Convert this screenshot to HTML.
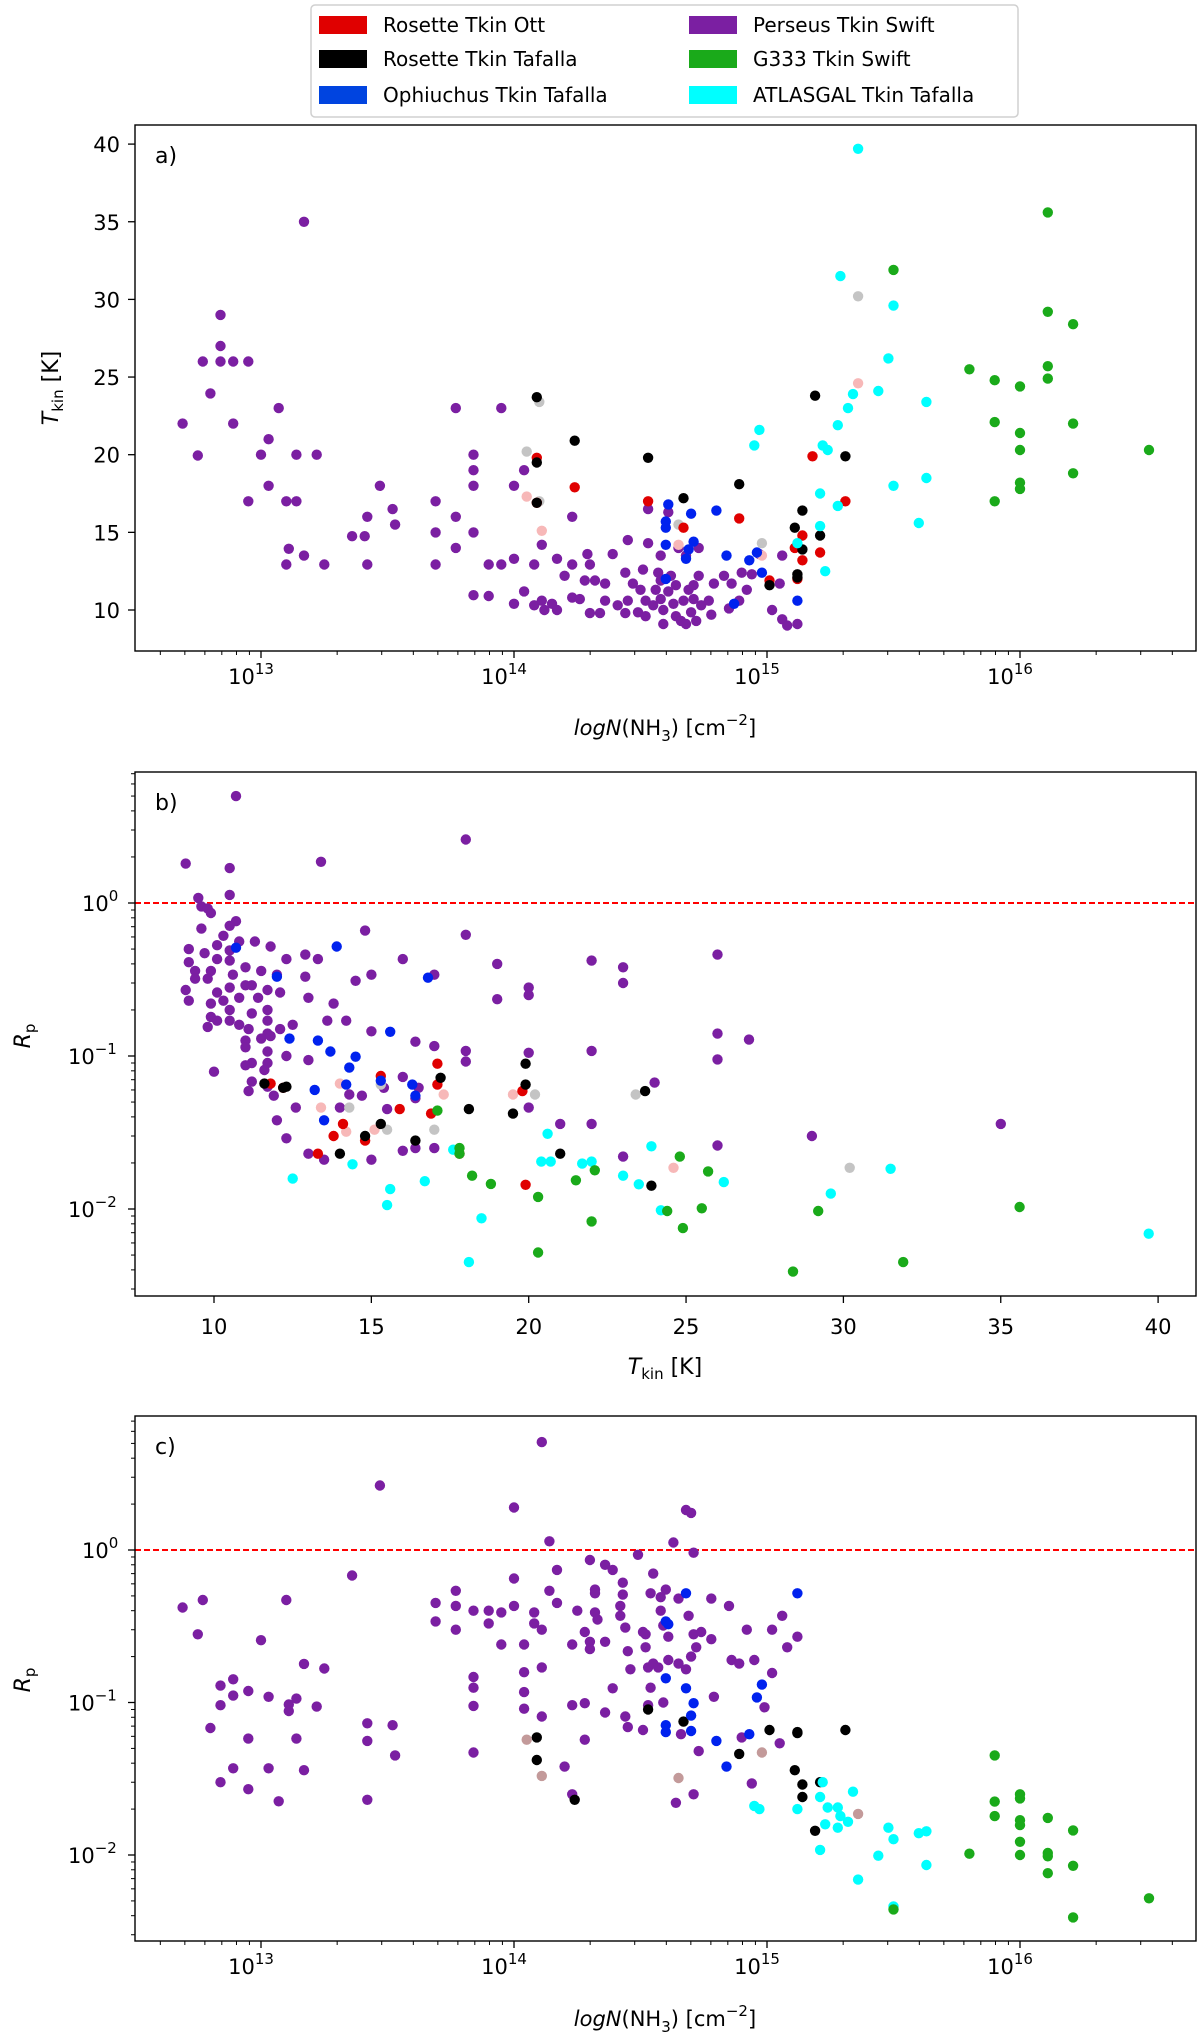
<!DOCTYPE html>
<html><head><meta charset="utf-8"><style>
html,body{margin:0;padding:0;background:#fff;}
svg{display:block;font-family:"DejaVu Sans","Liberation Sans",sans-serif;}
</style></head><body>
<svg id="fig" width="1200" height="2039" viewBox="0 0 1200 2039" xmlns="http://www.w3.org/2000/svg">
<g>
<rect x="311" y="5" width="707" height="112" rx="4" fill="#fff" stroke="#d0d0d0" stroke-width="1.5"/>
<rect x="319" y="16" width="48" height="18" fill="#e00000"/>
<text x="383" y="32" font-size="20">Rosette Tkin Ott</text>
<rect x="319" y="50" width="48" height="18" fill="#000"/>
<text x="383" y="66" font-size="20">Rosette Tkin Tafalla</text>
<rect x="319" y="86" width="48" height="18" fill="#0044e0"/>
<text x="383" y="102" font-size="20">Ophiuchus Tkin Tafalla</text>
<rect x="689" y="16" width="48" height="18" fill="#7b1fa2"/>
<text x="753" y="32" font-size="20">Perseus Tkin Swift</text>
<rect x="689" y="50" width="48" height="18" fill="#1aaa1a"/>
<text x="753" y="66" font-size="20">G333 Tkin Swift</text>
<rect x="689" y="86" width="48" height="18" fill="#00ffff"/>
<text x="753" y="102" font-size="20">ATLASGAL Tkin Tafalla</text>
</g>
</svg>
<script>
// ---------- Panel a: log N vs Tkin ----------
const a_perseus_N=[12.69,12.75,12.77,12.80,12.84,12.84,12.84,12.89,12.95,12.89,12.95,13.0,13.03,13.03,13.07,13.10,13.14,13.14,13.22,13.17,13.11,13.10,13.17,13.25,13.36,13.41,13.42,13.42,13.47,13.52,13.53,13.69,13.69,13.69,13.77,13.77,13.77,13.84,13.84,13.84,13.84,13.84,13.90,13.90,13.95,13.95,14.0,14.0,14.0,14.04,14.04,14.08,14.08,14.11,14.11,14.12,14.15,14.17,14.17,14.2,14.23,14.23,14.23,14.26,14.29,14.30,14.30,14.28,14.32,14.34,14.36,14.36,14.39,14.41,14.44,14.44,14.45,14.45,14.47,14.49,14.50,14.51,14.52,14.52,14.53,14.53,14.55,14.56,14.57,14.58,14.58,14.59,14.59,14.61,14.61,14.62,14.63,14.64,14.64,14.65,14.66,14.67,14.68,14.68,14.69,14.70,14.71,14.71,14.72,14.73,14.73,14.74,14.77,14.78,14.79,14.83,14.85,14.86,14.89,14.90,14.92,14.94,15.02,15.06,15.08,15.12,15.05,15.06,14.58,14.97];
const a_perseus_T=[22,19.95,26,23.95,29,27,26,26,26,22,17,20,21,18,23,17,17,20,20,35,13.94,12.93,13.5,12.93,14.75,14.75,16,12.93,18,16.5,15.5,17,15,12.93,23,16,14,20,19,18,15,10.95,12.93,10.9,23,12.93,18,13.3,10.4,19,11.2,12.93,10.3,14.2,10.6,10,10.4,10,13.3,12.2,16,12.93,10.8,10.7,13.6,12.93,9.8,11.9,11.9,9.8,10.6,11.7,13.6,10.3,9.8,12.4,10.6,14.5,11.7,9.85,11.3,12.6,10.6,9.6,16.5,14.3,10.3,11.3,12.4,11.9,10.7,9.1,10,11.2,16.3,12.2,10.4,9.6,11.6,14.0,9.3,10.6,9.1,13.5,11.3,9.85,10.7,11.6,9.3,12.2,14.0,10.3,10.6,9.7,11.7,12.2,10.1,11.7,10.6,12.4,11.3,12.3,10,9.4,9.0,9.1,11.7,13.5,13.5,13.6];
const a_pink_N=[14.05,14.11,14.65,14.98,15.36];
const a_pink_T=[17.3,15.1,14.2,13.5,24.6];
const a_grey_N=[14.05,14.10,14.10,14.65,14.98,15.36];
const a_grey_T=[20.2,23.4,17.0,15.5,14.3,30.2];
const a_ott_N=[14.09,14.09,14.24,14.53,14.67,14.89,15.01,15.11,15.14,15.14,15.12,15.18,15.21,15.31];
const a_ott_T=[19.8,16.9,17.9,17.0,15.3,15.9,11.9,14.0,14.8,13.2,12.0,19.9,13.7,17.0];
const a_tafalla_N=[14.09,14.09,14.09,14.24,14.53,14.67,14.89,15.01,15.11,15.14,15.14,15.12,15.12,15.19,15.21,15.31];
const a_tafalla_T=[23.7,19.5,16.9,20.9,19.8,17.2,18.1,11.6,15.3,16.4,13.9,12.3,12.1,23.8,14.8,19.9];
const a_oph_N=[14.61,14.60,14.60,14.60,14.60,14.70,14.71,14.69,14.68,14.80,14.84,14.93,14.96,14.98,14.87,15.12];
const a_oph_T=[16.8,15.7,15.3,14.2,12.0,16.2,14.4,13.9,13.3,16.4,13.5,13.2,13.7,12.4,10.4,10.6];
const a_atlas_N=[15.36,15.29,15.50,15.48,15.44,15.34,15.32,15.28,14.97,14.95,15.22,15.24,15.63,15.63,15.50,15.21,15.28,15.21,15.12,15.23,15.60];
const a_atlas_T=[39.7,31.5,29.6,26.2,24.1,23.9,23.0,21.9,21.6,20.6,20.6,20.3,23.4,18.5,18.0,17.5,16.7,15.4,14.3,12.5,15.6];
const a_g333_N=[16.11,15.50,16.11,16.21,15.80,16.11,16.11,15.90,16.0,15.90,16.21,16.0,16.0,16.51,16.0,16.0,15.90,16.21];
const a_g333_T=[35.6,31.9,29.2,28.4,25.5,25.7,24.9,24.8,24.4,22.1,22.0,21.4,20.3,20.3,18.2,17.8,17.0,18.8];
const a_yticks=[10,15,20,25,30,35,40];
const logN_ticks=[13,14,15,16];

// ---------- Panel b: Tkin vs Rp ----------
const b_perseus_T=[10.7,9.1,13.4,10.5,18.0,9.5,10.5,9.6,9.8,9.9,10.7,10.5,9.6,10.3,10.8,11.3,11.8,9.2,9.7,10.1,10.5,12.3,10.1,10.5,11.0,9.2,9.4,9.9,10.6,11.5,12.0,12.9,13.3,9.4,9.8,9.1,9.2,10.1,10.5,11.0,11.2,11.7,12.1,9.9,10.3,10.8,9.9,10.5,11.4,11.2,11.7,11.7,12.1,12.5,10.1,10.5,9.8,10.8,11.1,11.7,11.8,11.0,11.0,11.5,11.7,13.0,12.9,13.8,13.6,14.2,14.5,14.8,15.0,16.0,17.0,18.0,19.0,19.0,20.0,20.0,22.0,23.0,23.0,26.0,22.0,20.0,18.0,18.0,17.0,16.4,15.0,13.0,12.3,11.7,11.6,11.2,11.0,11.2,10.0,11.7,11.1,11.9,12.6,12.0,12.3,13.0,13.5,14.0,14.3,14.7,15.4,16.0,15.5,16.5,16.4,16.0,16.4,17.0,15.0,23.0,26.0,26.0,26.0,27.0,24.0,22.0,21.0,20.0,29.0,35.0];
const b_perseus_R=[5.0,1.81,1.86,1.69,2.6,1.08,1.13,0.95,0.92,0.86,0.76,0.71,0.68,0.61,0.56,0.56,0.52,0.50,0.47,0.53,0.49,0.43,0.43,0.42,0.38,0.41,0.36,0.36,0.34,0.36,0.34,0.46,0.43,0.32,0.32,0.27,0.23,0.26,0.28,0.29,0.29,0.27,0.26,0.22,0.23,0.24,0.18,0.20,0.24,0.19,0.20,0.17,0.15,0.16,0.17,0.17,0.155,0.16,0.15,0.14,0.135,0.126,0.114,0.13,0.107,0.24,0.33,0.22,0.17,0.17,0.31,0.66,0.34,0.43,0.34,0.62,0.40,0.235,0.28,0.25,0.42,0.38,0.30,0.46,0.108,0.105,0.108,0.092,0.116,0.124,0.145,0.094,0.10,0.09,0.081,0.09,0.087,0.068,0.079,0.063,0.059,0.055,0.046,0.038,0.029,0.023,0.021,0.046,0.056,0.055,0.062,0.073,0.045,0.062,0.053,0.024,0.025,0.025,0.021,0.022,0.026,0.14,0.095,0.128,0.067,0.036,0.036,0.046,0.03,0.036];
const b_pink_T=[13.4,14.2,15.1,17.3,19.5,24.6,14.0];
const b_pink_R=[0.046,0.032,0.033,0.056,0.056,0.0186,0.066];
const b_grey_T=[14.3,15.5,17.0,15.3,20.2,23.4,30.2];
const b_grey_R=[0.046,0.033,0.033,0.065,0.056,0.056,0.0186];
const b_ott_T=[11.8,12.2,13.3,13.8,14.1,14.8,15.3,15.9,16.9,17.1,17.1,17.8,19.8,19.9];
const b_ott_R=[0.066,0.062,0.023,0.030,0.036,0.028,0.074,0.045,0.042,0.065,0.089,0.023,0.059,0.0144];
const b_tafalla_T=[11.6,12.3,12.2,14.0,14.8,15.3,16.4,17.2,18.1,19.5,19.9,19.9,21.0,23.7,23.9];
const b_tafalla_R=[0.066,0.063,0.062,0.023,0.030,0.036,0.028,0.072,0.045,0.042,0.065,0.089,0.023,0.059,0.0142];
const b_oph_T=[10.7,13.9,12.0,16.8,12.4,13.3,13.7,14.5,15.6,14.3,15.3,16.3,14.2,13.2,16.4,13.5];
const b_oph_R=[0.51,0.52,0.33,0.325,0.13,0.126,0.107,0.099,0.144,0.084,0.069,0.065,0.065,0.06,0.055,0.038];
const b_atlas_T=[12.5,14.4,15.5,15.6,16.7,17.6,18.1,18.5,20.6,20.4,20.7,21.7,22.0,23.0,23.5,23.9,24.2,26.2,29.6,31.5,39.7];
const b_atlas_R=[0.0158,0.0196,0.0106,0.0135,0.0152,0.0244,0.0045,0.0087,0.031,0.0204,0.0204,0.0198,0.0204,0.0165,0.0145,0.0257,0.0098,0.0150,0.0126,0.0183,0.0069];
const b_g333_T=[17.1,17.8,17.8,18.2,18.8,20.3,20.3,21.5,22.1,22.0,24.4,24.8,24.9,25.5,25.7,28.4,29.2,31.9,35.6];
const b_g333_R=[0.044,0.025,0.023,0.0165,0.0146,0.012,0.0052,0.0154,0.0179,0.0083,0.0097,0.022,0.0075,0.0101,0.0176,0.0039,0.0097,0.0045,0.0103];
const b_xticks=[10,15,20,25,30,35,40];
const rp_ticks=[-2,-1,0];

// ---------- Panel c: log N vs Rp ----------
const c_perseus_N=[12.69,12.77,12.75,12.80,12.84,12.84,12.89,12.89,12.95,12.95,12.84,12.89,12.95,13.0,13.03,13.03,13.07,13.10,13.11,13.11,13.14,13.14,13.17,13.17,13.22,13.25,13.36,13.42,13.42,13.42,13.47,13.52,13.53,13.69,13.69,13.77,13.77,13.77,13.84,13.84,13.84,13.84,13.84,13.90,13.90,13.95,13.95,14.0,14.0,14.0,14.04,14.04,14.04,14.04,14.08,14.08,14.11,14.11,14.11,14.11,14.14,14.14,14.17,14.17,14.20,14.23,14.23,14.23,14.25,14.28,14.28,14.28,14.30,14.30,14.30,14.32,14.32,14.32,14.33,14.36,14.36,14.36,14.39,14.39,14.42,14.42,14.43,14.43,14.44,14.44,14.45,14.45,14.46,14.49,14.51,14.52,14.52,14.53,14.54,14.54,14.55,14.55,14.57,14.58,14.58,14.59,14.59,14.60,14.61,14.61,14.63,14.64,14.65,14.65,14.66,14.68,14.68,14.69,14.70,14.70,14.71,14.71,14.71,14.72,14.73,14.74,14.78,14.79,14.85,14.86,14.89,14.90,14.92,14.94,14.95,14.99,15.02,15.02,15.05,15.06,15.08,15.12,14.78,14.53,14.51];
const c_perseus_R=[0.42,0.47,0.28,0.068,0.129,0.096,0.142,0.111,0.119,0.058,0.030,0.037,0.027,0.256,0.109,0.037,0.0225,0.47,0.097,0.088,0.106,0.058,0.179,0.036,0.094,0.167,0.68,0.056,0.073,0.023,2.65,0.071,0.045,0.45,0.34,0.54,0.43,0.30,0.40,0.147,0.125,0.095,0.047,0.40,0.33,0.39,0.24,1.9,0.65,0.43,0.24,0.158,0.117,0.091,0.39,0.33,5.1,0.30,0.17,0.081,1.14,0.54,0.74,0.45,0.038,0.24,0.096,0.025,0.40,0.099,0.057,0.29,0.86,0.25,0.224,0.55,0.52,0.39,0.35,0.25,0.80,0.086,0.74,0.124,0.43,0.37,0.61,0.51,0.31,0.081,0.217,0.069,0.165,0.93,0.29,0.28,0.23,0.17,0.52,0.125,0.70,0.18,0.17,0.49,0.40,0.32,0.10,0.55,0.27,0.19,1.12,0.022,0.48,0.18,0.062,0.165,1.83,0.37,1.75,0.20,0.28,0.96,0.025,0.23,0.048,0.29,0.26,0.109,0.43,0.19,0.18,0.059,0.30,0.0295,0.19,0.093,0.30,0.156,0.054,0.37,0.23,0.27,0.48,0.096,0.066];
const c_tafalla_N=[14.09,14.09,14.24,14.53,14.67,14.89,15.01,15.11,15.14,15.14,15.12,15.12,15.19,15.21,15.31];
const c_tafalla_R=[0.059,0.042,0.023,0.090,0.075,0.046,0.066,0.036,0.029,0.024,0.064,0.063,0.0144,0.030,0.066];
const c_rosy_N=[14.05,14.11,14.65,14.98,15.36];
const c_rosy_R=[0.057,0.033,0.032,0.047,0.0186];
const c_oph_N=[14.61,14.60,14.68,15.12,14.60,14.68,14.71,14.70,14.60,14.60,14.70,14.80,14.84,14.93,14.96,14.98];
const c_oph_R=[0.326,0.34,0.52,0.52,0.144,0.124,0.099,0.082,0.071,0.064,0.065,0.056,0.038,0.062,0.108,0.131];
const c_atlas_N=[14.95,14.97,15.12,15.21,15.22,15.24,15.28,15.29,15.32,15.23,15.28,15.34,15.21,15.44,15.36,15.48,15.50,15.50,15.60,15.63,15.63];
const c_atlas_R=[0.021,0.020,0.020,0.024,0.030,0.0205,0.0205,0.018,0.0165,0.0159,0.0151,0.026,0.0108,0.0099,0.0069,0.0151,0.0127,0.0046,0.0139,0.0143,0.0086];
const c_g333_N=[15.50,15.80,15.90,15.90,15.90,16.0,16.0,16.0,16.0,16.0,16.0,16.11,16.11,16.11,16.11,16.21,16.21,16.21,16.51];
const c_g333_R=[0.0044,0.0102,0.045,0.0224,0.018,0.025,0.0235,0.0169,0.0157,0.0122,0.010,0.0175,0.0103,0.0098,0.0076,0.0145,0.0085,0.0039,0.0052];

const NS="http://www.w3.org/2000/svg";
const svg=document.getElementById('fig');
const COL={perseus:"#7b1fa2",ott:"#e00000",tafalla:"#000000",oph:"#0022ee",atlas:"#00ffff",g333:"#1aaa1a",pink:"#f7b8b8",grey:"#c4c4c4",rosy:"#c39a9a"};
const L=135,R=1196;
// axis functions
function xLogN(v){return 261+(v-13)*253;}
function xT(v){return 214+(v-10)*31.47;}
function yA(v){return 610-(v-10)*15.53;}
function yB(v){return 903-Math.log10(v)*153;}
function yC(v){return 1550-Math.log10(v)*152.5;}

function mk(tag,attrs,parent){const e=document.createElementNS(NS,tag);for(const k in attrs)e.setAttribute(k,attrs[k]);(parent||svg).appendChild(e);return e;}

function scatter(xs,ys,fx,fy,color,name,g){
  const n=Math.min(xs.length,ys.length);
  for(let i=0;i<n;i++){
    const c=mk('circle',{cx:fx(xs[i]).toFixed(1),cy:fy(ys[i]).toFixed(1),r:5.2,fill:color},g);
    
    
  }
}

function frame(top,bot,name){
  const r=mk('rect',{x:L,y:top,width:R-L,height:bot-top,fill:'none',stroke:'#000','stroke-width':1.4});
  
  
}
function line(x1,y1,x2,y2,w){return mk('line',{x1:x1,y1:y1,x2:x2,y2:y2,stroke:'#000','stroke-width':w||1.2});}

function logXAxis(bot,name){
  const g=mk('g',{});
  
  
  for(let d=12;d<=16;d++){
    for(let m=1;m<10;m++){
      const v=d+Math.log10(m);const x=xLogN(v);
      if(x<L||x>R)continue;
      const major=(m===1);
      mk('line',{x1:x,y1:bot,x2:x,y2:bot+(major?7:4),stroke:'#000','stroke-width':major?1.3:1},g);
    }
  }
  logN_ticks.forEach(t=>{
    const tx=mk('text',{x:xLogN(t)-10,y:bot+33,'font-size':21,'text-anchor':'middle'},g);
    tx.textContent='10';
    const s=mk('tspan',{dy:-10,'font-size':15},tx);s.textContent=String(t);
  });
}
function logYAxis(top,bot,fy,name){
  const g=mk('g',{});
  
  
  for(let d=-3;d<=0;d++){
    for(let m=1;m<10;m++){
      const v=m*Math.pow(10,d);const y=fy(v);
      if(y<top||y>bot)continue;
      const major=(m===1);
      mk('line',{x1:L,y1:y,x2:L-(major?7:4),y2:y,stroke:'#000','stroke-width':major?1.3:1},g);
    }
  }
  rp_ticks.forEach(t=>{
    const y=fy(Math.pow(10,t));
    const tx=mk('text',{x:t===0?82:68,y:y+8,'font-size':21},g);
    tx.textContent='10';
    const s=mk('tspan',{dy:-10,'font-size':15},tx);s.textContent=t===0?'0':'\u2212'+(-t);
  });
}
function nhLabel(y,name){
  const tx=mk('text',{x:665,y:y,'font-size':21,'text-anchor':'middle'});
  
  
  const a=mk('tspan',{'font-style':'italic'},tx);a.textContent='logN';
  const b=mk('tspan',{},tx);b.textContent='(NH';
  const c=mk('tspan',{dy:6,'font-size':15},tx);c.textContent='3';
  const d=mk('tspan',{dy:-6},tx);d.textContent=') [cm';
  const e=mk('tspan',{dy:-10,'font-size':15},tx);e.textContent='\u22122';
  const f=mk('tspan',{dy:10},tx);f.textContent=']';
}
function rpLabel(cy,name){
  const tx=mk('text',{x:0,y:0,'font-size':22,'text-anchor':'middle',transform:'translate(30,'+cy+') rotate(-90)'});
  
  
  const a=mk('tspan',{'font-style':'italic'},tx);a.textContent='R';
  const b=mk('tspan',{dy:5,'font-size':15},tx);b.textContent='p';
}
function panelLabel(y,txt,name){
  const t=mk('text',{x:155,y:y,'font-size':22});t.textContent=txt;
  
  
}
function refLine(fy,name){
  const l=mk('line',{x1:L,y1:fy(1),x2:R,y2:fy(1),stroke:'#ff0000','stroke-width':2,'stroke-dasharray':'6,3'});
  
  
}

// ===== Panel a =====
const gA=mk('g',{});


scatter(a_perseus_N,a_perseus_T,xLogN,yA,COL.perseus,'perseus',gA);
scatter(a_pink_N,a_pink_T,xLogN,yA,COL.pink,'rosette-ott-alt',gA);
scatter(a_grey_N,a_grey_T,xLogN,yA,COL.grey,'rosette-tafalla-alt',gA);
scatter(a_ott_N,a_ott_T,xLogN,yA,COL.ott,'rosette-ott',gA);
scatter(a_tafalla_N,a_tafalla_T,xLogN,yA,COL.tafalla,'rosette-tafalla',gA);
scatter(a_oph_N,a_oph_T,xLogN,yA,COL.oph,'ophiuchus',gA);
scatter(a_atlas_N,a_atlas_T,xLogN,yA,COL.atlas,'atlasgal',gA);
scatter(a_g333_N,a_g333_T,xLogN,yA,COL.g333,'g333',gA);
frame(125,651,'panel-a');
logXAxis(651,'panel-a');
const gAy=mk('g',{});


a_yticks.forEach(t=>{
  const y=yA(t);
  mk('line',{x1:L,y1:y,x2:L-7,y2:y,stroke:'#000','stroke-width':1.3},gAy);
  const tx=mk('text',{x:120,y:y+8,'font-size':21,'text-anchor':'end'},gAy);tx.textContent=String(t);
});
nhLabel(735,'panel-a');
(function(){const tx=mk('text',{x:0,y:0,'font-size':22,'text-anchor':'middle',transform:'translate(58,388) rotate(-90)'});


const a=mk('tspan',{'font-style':'italic'},tx);a.textContent='T';
const b=mk('tspan',{dy:5,'font-size':15},tx);b.textContent='kin';
const c=mk('tspan',{dy:-5},tx);c.textContent=' [K]';})();
panelLabel(163,'a)','panel-a');

// ===== Panel b =====
refLine(yB,'panel-b');
const gB=mk('g',{});


scatter(b_perseus_T,b_perseus_R,xT,yB,COL.perseus,'perseus',gB);
scatter(b_pink_T,b_pink_R,xT,yB,COL.pink,'rosette-ott-alt',gB);
scatter(b_grey_T,b_grey_R,xT,yB,COL.grey,'rosette-tafalla-alt',gB);
scatter(b_ott_T,b_ott_R,xT,yB,COL.ott,'rosette-ott',gB);
scatter(b_tafalla_T,b_tafalla_R,xT,yB,COL.tafalla,'rosette-tafalla',gB);
scatter(b_oph_T,b_oph_R,xT,yB,COL.oph,'ophiuchus',gB);
scatter(b_atlas_T,b_atlas_R,xT,yB,COL.atlas,'atlasgal',gB);
scatter(b_g333_T,b_g333_R,xT,yB,COL.g333,'g333',gB);
frame(772,1296,'panel-b');
logYAxis(772,1296,yB,'panel-b');
const gBx=mk('g',{});


b_xticks.forEach(t=>{
  const x=xT(t);
  mk('line',{x1:x,y1:1296,x2:x,y2:1303,stroke:'#000','stroke-width':1.3},gBx);
  const tx=mk('text',{x:x,y:1334,'font-size':21,'text-anchor':'middle'},gBx);tx.textContent=String(t);
});
(function(){const tx=mk('text',{x:665,y:1374,'font-size':22,'text-anchor':'middle'});


const a=mk('tspan',{'font-style':'italic'},tx);a.textContent='T';
const b=mk('tspan',{dy:5,'font-size':15},tx);b.textContent='kin';
const c=mk('tspan',{dy:-5},tx);c.textContent=' [K]';})();
rpLabel(1036,'panel-b');
panelLabel(810,'b)','panel-b');

// ===== Panel c =====
refLine(yC,'panel-c');
const gC=mk('g',{});


scatter(c_perseus_N,c_perseus_R,xLogN,yC,COL.perseus,'perseus',gC);
scatter(c_tafalla_N,c_tafalla_R,xLogN,yC,COL.tafalla,'rosette-tafalla',gC);
scatter(c_rosy_N,c_rosy_R,xLogN,yC,COL.rosy,'rosette-ott-alt',gC);
scatter(c_oph_N,c_oph_R,xLogN,yC,COL.oph,'ophiuchus',gC);
scatter(c_atlas_N,c_atlas_R,xLogN,yC,COL.atlas,'atlasgal',gC);
scatter(c_g333_N,c_g333_R,xLogN,yC,COL.g333,'g333',gC);
frame(1416,1941,'panel-c');
logYAxis(1416,1941,yC,'panel-c');
logXAxis(1941,'panel-c');
nhLabel(2026,'panel-c');
rpLabel(1680,'panel-c');
panelLabel(1454,'c)','panel-c');
</script>
</body></html>
